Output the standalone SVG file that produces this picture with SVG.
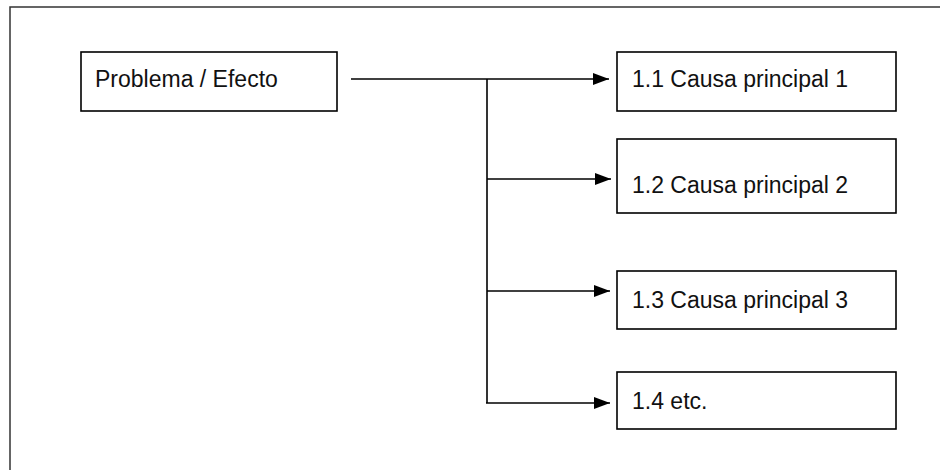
<svg xmlns="http://www.w3.org/2000/svg" width="940" height="470" viewBox="0 0 940 470">
<style>
.box{fill:#fff;stroke:#000;stroke-width:1.6}
.lbl{font-family:"Liberation Sans",Arial,sans-serif;font-size:23px;fill:#111}
.con{fill:none;stroke:#000;stroke-width:1.6}
.frame{fill:none;stroke:#333;stroke-width:1.5}
</style>
<defs>
<marker id="arr" markerWidth="16" markerHeight="12" refX="16" refY="6" orient="auto" markerUnits="userSpaceOnUse">
<path d="M0,0 L16,6 L0,12 Z" fill="#000"/>
</marker>
</defs>
<rect width="940" height="470" fill="#fff"/>
<path class="frame" d="M10,470 L10,7 L940,7"/>
<g id="problema">
<rect class="box" x="81" y="52" width="256" height="59"/>
<text class="lbl" x="95" y="87">Problema / Efecto</text>
</g>
<g id="causa1">
<rect class="box" x="617" y="52" width="279" height="59"/>
<text class="lbl" x="632" y="87">1.1 Causa principal 1</text>
</g>
<g id="causa2">
<rect class="box" x="617" y="139" width="279" height="74"/>
<text class="lbl" x="632" y="193">1.2 Causa principal 2</text>
</g>
<g id="causa3">
<rect class="box" x="617" y="271" width="279" height="58"/>
<text class="lbl" x="632" y="308">1.3 Causa principal 3</text>
</g>
<g id="causa4">
<rect class="box" x="617" y="372" width="279" height="57"/>
<text class="lbl" x="632" y="409">1.4 etc.</text>
</g>
<g id="connectors">
<line class="con" x1="351" y1="79" x2="609" y2="79" marker-end="url(#arr)"/>
<line class="con" x1="487" y1="79" x2="487" y2="403"/>
<line class="con" x1="487" y1="179" x2="611" y2="179" marker-end="url(#arr)"/>
<line class="con" x1="487" y1="291" x2="610" y2="291" marker-end="url(#arr)"/>
<line class="con" x1="486" y1="403" x2="610" y2="403" marker-end="url(#arr)"/>
</g>
</svg>
